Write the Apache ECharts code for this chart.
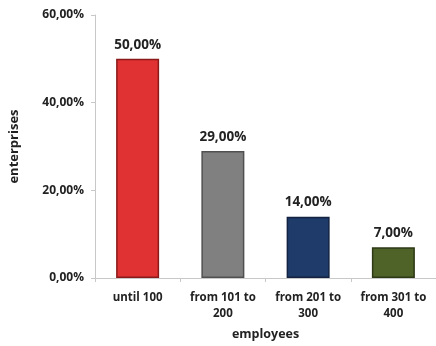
<!DOCTYPE html>
<html>
<head>
<meta charset="utf-8">
<script src="https://cdn.jsdelivr.net/npm/echarts@6/dist/echarts.min.js"></script>
<style>
html,body{margin:0;padding:0;background:#fff;}
#chart{width:436px;height:346px;}
</style>
</head>
<body>
<div id="chart"></div>
<script>
var categories = ['until 100', 'from 101 to\n200', 'from 201 to\n300', 'from 301 to\n400'];
var values = [50, 29, 14, 7];
var barColors = ['#e03232', '#808080', '#1f3b6a', '#4f6228'];
var borderColors = ['#8a1a1a', '#505050', '#122240', '#2e3a16'];
var yTicks = [0, 20, 40, 60];

var chart = echarts.init(document.getElementById('chart'));

function pct(v){
    return v.toFixed(2).replace('.', ',') + '%';
}

var option = {
    animation: false,
    grid: {
        left: 95,
        top: 15,
        width: 346,
        height: 263
    },
    xAxis: {
        type: 'category',
        data: categories,
        name: 'employees',
        nameLocation: 'middle',
        nameGap: 50,
        nameTextStyle: {fontFamily: 'Open Sans', fontWeight: 'bold', fontSize: 12.5, color: '#222'},
        axisLine: {lineStyle: {color: '#c8c8c8'}},
        axisTick: {show: true, length: 4, lineStyle: {color: '#c8c8c8'}},
        axisLabel: {
            interval: 0,
            margin: 12,
            lineHeight: 16,
            fontFamily: 'Open Sans',
            fontWeight: 'bold',
            fontSize: 11.5,
            color: '#222'
        }
    },
    yAxis: {
        type: 'value',
        min: 0,
        max: 60,
        interval: 20,
        name: 'enterprises',
        nameLocation: 'middle',
        nameGap: 74,
        nameRotate: 90,
        nameTextStyle: {fontFamily: 'Open Sans', fontWeight: 'bold', fontSize: 13, color: '#222'},
        axisLine: {show: true, lineStyle: {color: '#c8c8c8'}},
        axisTick: {show: true, length: 4, lineStyle: {color: '#c8c8c8'}},
        splitLine: {show: false},
        axisLabel: {
            margin: 11,
            fontFamily: 'Open Sans',
            fontWeight: 'bold',
            fontSize: 12,
            color: '#222',
            formatter: function(v){ return pct(v); }
        }
    },
    series: [{
        type: 'bar',
        barWidth: 43,
        data: values.map(function(v, i){
            return {
                value: v,
                itemStyle: {color: barColors[i], borderColor: borderColors[i], borderWidth: 1.5}
            };
        }),
        label: {
            show: true,
            position: 'top',
            distance: 7,
            fontFamily: 'Open Sans',
            fontWeight: 'bold',
            fontSize: 13.5,
            color: '#222',
            formatter: function(p){ return pct(p.value); }
        }
    }]
};
chart.setOption(option);
</script>
</body>
</html>
